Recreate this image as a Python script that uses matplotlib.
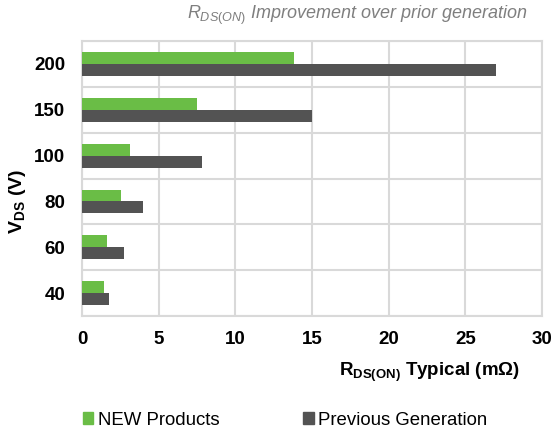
import numpy as np
import matplotlib
matplotlib.use("Agg")
import matplotlib.pyplot as plt
from matplotlib.patches import Patch

plt.rcParams["font.family"] = ["Liberation Sans", "DejaVu Sans"]
plt.rcParams["mathtext.fontset"] = "custom"
plt.rcParams["mathtext.rm"] = "Liberation Sans"
plt.rcParams["mathtext.bf"] = "Liberation Sans:bold"
plt.rcParams["mathtext.it"] = "Liberation Sans:italic"

# data (bottom to top)
voltages = ["40", "60", "80", "100", "150", "200"]
new_products = [1.45, 1.65, 2.55, 3.1, 7.5, 13.8]
previous_gen = [1.75, 2.75, 4.0, 7.8, 15.0, 27.0]
x_ticks = [0, 5, 10, 15, 20, 25, 30]

GREEN = "#6abd46"
GRAY = "#535353"
GRID = "#d9d9d9"

W, H = 554, 436
fig = plt.figure(figsize=(W / 100, H / 100), dpi=100)
ax = fig.add_axes([82 / W, 1 - 316 / H, (542 - 82) / W, (316 - 41) / H])

y = np.arange(len(voltages))
bh = 0.26
ax.barh(y + bh / 2, new_products, height=bh, color=GREEN, zorder=3)
ax.barh(y - bh / 2, previous_gen, height=bh, color=GRAY, zorder=3)

ax.set_xlim(0, 30)
ax.set_ylim(-0.5, len(voltages) - 0.5)
ax.set_xticks(x_ticks)
ax.set_yticks(y)
ax.set_yticklabels(voltages)
ax.set_yticks(np.arange(-0.5, len(voltages)), minor=True)
ax.tick_params(axis="both", which="both", length=0, labelsize=13.5)
ax.tick_params(axis="x", pad=11)
ax.tick_params(axis="y", pad=12)
for lab in ax.get_xticklabels() + ax.get_yticklabels():
    lab.set_fontweight("bold")

ax.grid(axis="x", which="major", color=GRID, linewidth=1.5, zorder=0)
ax.grid(axis="y", which="minor", color=GRID, linewidth=1.5, zorder=0)
for s in ax.spines.values():
    s.set_color(GRID)
    s.set_linewidth(1.5)

fig.text(357 / W, 1 - 15 / H,
         r"$\mathit{R}_{\mathit{DS(ON)}}$ Improvement over prior generation",
         ha="center", va="center", fontsize=13, style="italic", color="#7f7f7f")

fig.text(520 / W, 1 - 372 / H, r"R$_{\mathbf{DS(ON)}}$ Typical (mΩ)",
         ha="right", va="center", fontsize=13.5, fontweight="bold")

fig.text(18 / W, 1 - 201 / H, r"V$_{\mathbf{DS}}$ (V)", rotation=90,
         ha="center", va="center", fontsize=14, fontweight="bold")

handles = [Patch(color=GREEN, label="NEW Products"),
           Patch(color=GRAY, label="Previous Generation")]
fig.legend(handles=handles, loc="center left",
           bbox_to_anchor=(83 / W, 1 - 420 / H), ncol=2, frameon=False,
           fontsize=13.4, handlelength=0.55, handleheight=0.55,
           handletextpad=0.25, columnspacing=4.5, borderpad=0, borderaxespad=0)

fig.savefig("out.png", dpi=100)
